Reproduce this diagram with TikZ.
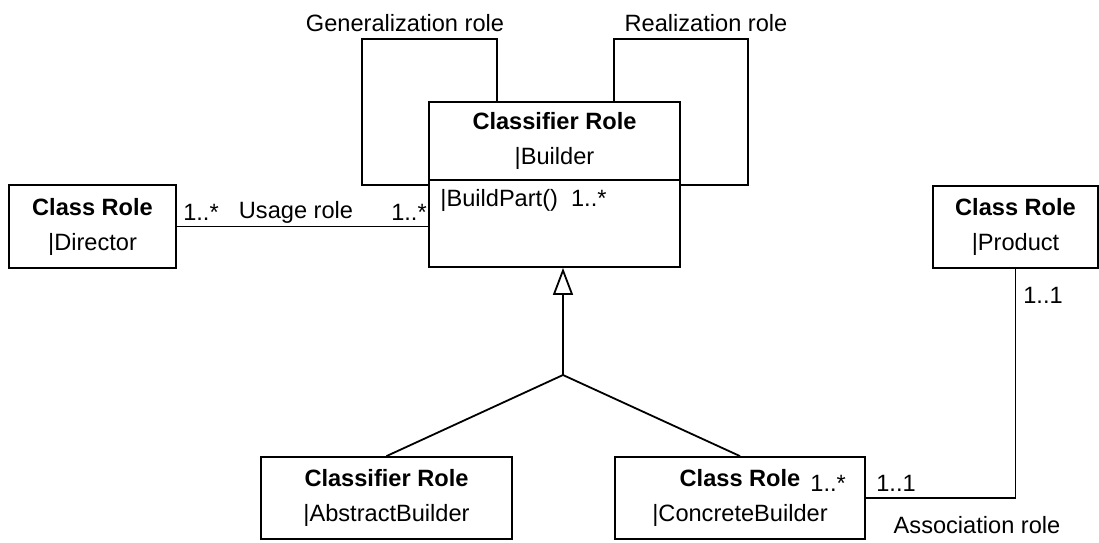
\documentclass[tikz,border=0pt]{standalone}
\usepackage{fontspec}
\setmainfont{Liberation Sans}
\usetikzlibrary{arrows.meta}

\begin{document}
\begin{tikzpicture}[x=0.5pt, y=-0.5pt,
    rolebox/.style={draw, line width=0.9pt, align=center, inner sep=0pt, font=\fontsize{11.8}{17.5}\selectfont},
    rolelabel/.style={inner sep=0pt, font=\fontsize{11.8}{14}\selectfont},
    rolelink/.style={line width=0.9pt}]
    \useasboundingbox (0,0) rectangle (1099,542);

    % Role boxes
    \node[rolebox, minimum width=83.5pt, minimum height=41.5pt] (director) at (92.5,226.5) {\textbf{Class Role}\\|Director};
    \node[rolebox, minimum width=125.5pt, minimum height=39pt] (builderhead) at (554.5,141) {\textbf{Classifier Role}\\|Builder};
    \node[rolebox, minimum width=125.5pt, minimum height=43.5pt] (builderbody) at (554.5,223.5) {};
    \node[rolebox, minimum width=82.5pt, minimum height=41pt] (product) at (1015.5,227) {\textbf{Class Role}\\|Product};
    \node[rolebox, minimum width=125.5pt, minimum height=41pt] (abstract) at (386.5,498) {\textbf{Classifier Role}\\|AbstractBuilder};
    \node[rolebox, minimum width=125pt, minimum height=41pt] (concrete) at (740,498) {\textbf{Class Role}\\|ConcreteBuilder};

    % Operation
    \node[rolelabel, anchor=west] (buildpart) at (440,200) {|BuildPart()\ \ 1..*};

    % Loop corners
    \coordinate (genTR) at (497,39);
    \coordinate (genBL) at (362,185);
    \coordinate (realTL) at (614,39);
    \coordinate (realBR) at (748,185);
    \coordinate (join) at (563,375);

    % Connections
    \draw[rolelink] (builderhead.north -| genTR) -- (genTR) -| (genBL) -- (builderbody.west |- genBL);
    \draw[rolelink] (builderhead.north -| realTL) -- (realTL) -| (realBR) -- (builderbody.east |- realBR);
    \draw[rolelink] (director.east) -- (director.east -| builderbody.west);
    \draw[rolelink, -{Triangle[open, length=13.5pt, width=10pt]}] (join) -- (join |- builderbody.south);
    \draw[rolelink] (join) -- (abstract.north);
    \draw[rolelink] (join) -- (concrete.north);
    \draw[rolelink] (concrete.east) -| (product.south);

    % Labels
    \node[rolelabel] (genlabel) at (405,23) {Generalization role};
    \node[rolelabel] (reallabel) at (706,23) {Realization role};
    \node[rolelabel] (usemultA) at (201,212) {1..*};
    \node[rolelabel] (uselabel) at (296,212) {Usage role};
    \node[rolelabel] (usemultB) at (409,212) {1..*};
    \node[rolelabel, anchor=west] (concmult) at (810,483) {1..*};
    \node[rolelabel] (assocmultA) at (896,483) {1..1};
    \node[rolelabel] (assocmultB) at (1043,295) {1..1};
    \node[rolelabel] (assoclabel) at (977,525) {Association role};
\end{tikzpicture}
\end{document}
